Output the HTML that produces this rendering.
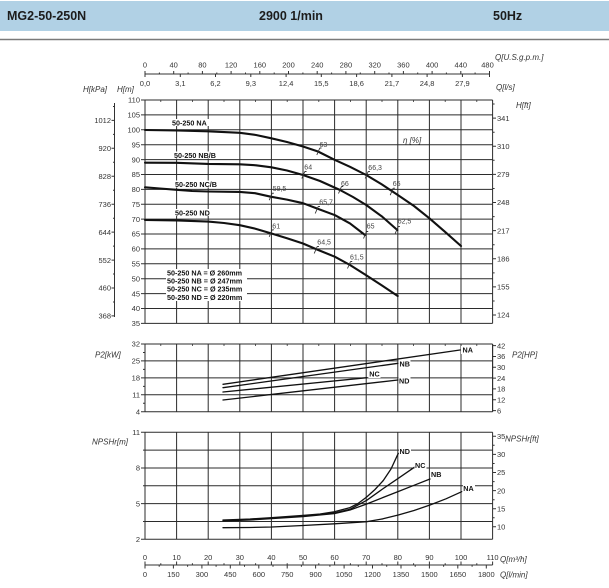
<!DOCTYPE html>
<html>
<head>
<meta charset="utf-8">
<style>
html,body{margin:0;padding:0;background:#fff;}
body{width:609px;height:588px;overflow:hidden;}
svg{display:block;font-family:"Liberation Sans",Arial,sans-serif;}
.t{font-size:7.5px;fill:#333;}
.it{font-size:8px;fill:#333;font-style:italic;}
.b{font-size:7.2px;fill:#111;font-weight:bold;}
.e{font-size:7px;fill:#444;}
.h{font-size:12.5px;font-weight:bold;fill:#1c1c1c;}
</style>
</head>
<body>
<svg width="609" height="588" viewBox="0 0 609 588" xmlns="http://www.w3.org/2000/svg">
<!-- header -->
<rect x="0" y="1" width="609" height="30" fill="#b1d1e5"/>
<text x="7" y="20" class="h">MG2-50-250N</text>
<text x="259" y="20" class="h">2900 1/min</text>
<text x="493" y="20" class="h">50Hz</text>
<line x1="0" y1="39.5" x2="609" y2="39.5" stroke="#7a7a7a" stroke-width="1.4"/>

<!-- top axis (U.S. gpm / l/s) -->
<text x="495" y="60" class="it">Q[U.S.g.p.m.]</text>
<text x="496" y="90" class="it">Q[l/s]</text>
<line x1="145" y1="74" x2="489.5" y2="74" stroke="#333" stroke-width="1"/>
<path stroke="#333" stroke-width="1" fill="none" d="M145 71V77 M173.7 71V74 M202.4 71V74 M231.1 71V74 M259.8 71V74 M288.5 71V74 M317.2 71V74 M345.9 71V74 M374.7 71V74 M403.4 71V74 M432.1 71V74 M460.8 71V74 M489.5 71V77
M159.4 72.5V74 M188.1 72.5V74 M216.8 72.5V74 M245.5 72.5V74 M274.2 72.5V74 M302.9 72.5V74 M331.6 72.5V74 M360.3 72.5V74 M389 72.5V74 M417.7 72.5V74 M446.4 72.5V74 M475.1 72.5V74
M180.3 74V77 M215.5 74V77 M250.8 74V77 M286.1 74V77 M321.3 74V77 M356.6 74V77 M391.9 74V77 M427.1 74V77 M462.4 74V77"/>
<g class="t" text-anchor="middle">
<text x="145" y="67.5">0</text><text x="173.7" y="67.5">40</text><text x="202.4" y="67.5">80</text><text x="231.1" y="67.5">120</text><text x="259.8" y="67.5">160</text><text x="288.5" y="67.5">200</text><text x="317.2" y="67.5">240</text><text x="345.9" y="67.5">280</text><text x="374.7" y="67.5">320</text><text x="403.4" y="67.5">360</text><text x="432.1" y="67.5">400</text><text x="460.8" y="67.5">440</text><text x="487.5" y="67.5">480</text>
<text x="145" y="86">0,0</text><text x="180.3" y="86">3,1</text><text x="215.5" y="86">6,2</text><text x="250.8" y="86">9,3</text><text x="286.1" y="86">12,4</text><text x="321.3" y="86">15,5</text><text x="356.6" y="86">18,6</text><text x="391.9" y="86">21,7</text><text x="427.1" y="86">24,8</text><text x="462.4" y="86">27,9</text>
</g>
<text x="83" y="92" class="it">H[kPa]</text>
<text x="117" y="92" class="it">H[m]</text>
<text x="516" y="108" class="it">H[ft]</text>

<!-- TOP CHART grid -->
<path stroke="#2b2b2b" stroke-width="1" fill="none" d="
M145 100V323.4 M176.6 100V323.4 M208.2 100V323.4 M239.8 100V323.4 M271.4 100V323.4 M303 100V323.4 M334.6 100V323.4 M366.2 100V323.4 M397.8 100V323.4 M429.4 100V323.4 M461 100V323.4 M492.6 100V323.4
M145 100H492.6 M145 114.9H492.6 M145 129.8H492.6 M145 144.7H492.6 M145 159.6H492.6 M145 174.5H492.6 M145 189.4H492.6 M145 204.2H492.6 M145 219.1H492.6 M145 234H492.6 M145 248.9H492.6 M145 263.8H492.6 M145 278.7H492.6 M145 293.6H492.6 M145 308.5H492.6 M145 323.4H492.6"/>
<!-- top minor ticks on top border -->
<path stroke="#333" stroke-width="0.8" d="M160.8 100V102 M192.4 100V102 M224 100V102 M255.6 100V102 M287.2 100V102 M318.8 100V102 M350.4 100V102 M382 100V102 M413.6 100V102 M445.2 100V102 M476.8 100V102"/>
<!-- left H[m] ticks & labels -->
<path stroke="#333" stroke-width="1" d="M141 100H145 M141 114.9H145 M141 129.8H145 M141 144.7H145 M141 159.6H145 M141 174.5H145 M141 189.4H145 M141 204.2H145 M141 219.1H145 M141 234H145 M141 248.9H145 M141 263.8H145 M141 278.7H145 M141 293.6H145 M141 308.5H145 M141 323.4H145"/>
<g class="t" text-anchor="end">
<text x="140" y="102.7">110</text><text x="140" y="117.6">105</text><text x="140" y="132.5">100</text><text x="140" y="147.4">95</text><text x="140" y="162.3">90</text><text x="140" y="177.2">85</text><text x="140" y="192.1">80</text><text x="140" y="206.9">75</text><text x="140" y="221.8">70</text><text x="140" y="236.7">65</text><text x="140" y="251.6">60</text><text x="140" y="266.5">55</text><text x="140" y="281.4">50</text><text x="140" y="296.3">45</text><text x="140" y="311.2">40</text><text x="140" y="326.1">35</text>
</g>
<!-- kPa axis -->
<line x1="114.5" y1="103" x2="114.5" y2="317" stroke="#333" stroke-width="1"/>
<path stroke="#333" stroke-width="1" d="M111.5 120.4H114.5 M111.5 148.3H114.5 M111.5 176.3H114.5 M111.5 204.2H114.5 M111.5 232.1H114.5 M111.5 260.1H114.5 M111.5 288H114.5 M111.5 315.9H114.5
M113 106.5H114.5 M113 134.4H114.5 M113 162.3H114.5 M113 190.2H114.5 M113 218.2H114.5 M113 246.1H114.5 M113 274H114.5 M113 302H114.5"/>
<g class="t" text-anchor="end">
<text x="111" y="123.1">1012</text><text x="111" y="151">920</text><text x="111" y="179">828</text><text x="111" y="206.9">736</text><text x="111" y="234.8">644</text><text x="111" y="262.8">552</text><text x="111" y="290.7">460</text><text x="111" y="318.6">368</text>
</g>
<!-- ft axis -->
<path stroke="#333" stroke-width="1" d="M492.6 118.1H496 M492.6 146.2H496 M492.6 174.4H496 M492.6 202.5H496 M492.6 230.6H496 M492.6 258.8H496 M492.6 286.9H496 M492.6 315H496
M492.6 104H494.6 M492.6 132.2H494.6 M492.6 160.3H494.6 M492.6 188.5H494.6 M492.6 216.6H494.6 M492.6 244.7H494.6 M492.6 272.9H494.6 M492.6 301H494.6"/>
<g class="t">
<text x="497" y="120.8">341</text><text x="497" y="148.9">310</text><text x="497" y="177.1">279</text><text x="497" y="205.2">248</text><text x="497" y="233.3">217</text><text x="497" y="261.5">186</text><text x="497" y="289.6">155</text><text x="497" y="317.7">124</text>
</g>
<text x="403" y="143" class="it">η [%]</text>

<!-- curve labels -->
<g>
<rect x="171" y="119" width="40" height="7" fill="#fff"/>
<text x="172" y="125.3" class="b">50-250 NA</text>
<rect x="173" y="151.5" width="46" height="7" fill="#fff"/>
<text x="174" y="157.8" class="b">50-250 NB/B</text>
<rect x="174" y="180.5" width="46" height="7" fill="#fff"/>
<text x="175" y="186.8" class="b">50-250 NC/B</text>
<rect x="174" y="209" width="39" height="7" fill="#fff"/>
<text x="175" y="215.3" class="b">50-250 ND</text>
</g>
<!-- curves -->
<g fill="none" stroke="#111" stroke-width="2.1" stroke-linejoin="round" stroke-linecap="round">
<polyline points="145,130 176.6,130.5 208.2,131.3 239.8,132.8 256,135 271.4,138.3 287,142 303,146.5 318,151.5 334.6,159.8 350,166.8 366.2,175 382,184.5 397.8,195 414,206 429.4,218.3 445,231.8 461,246"/>
<polyline points="145,162.7 176.6,162.8 208.2,163.9 239.8,164.3 256,165.3 271.4,167.3 287,170.5 303,175 320,181 340,190 353,197 366.2,205 382,216.5 397.3,230"/>
<polyline points="145,187.3 160,188.5 176.6,189.8 192,191 208.2,191.5 239.8,191.9 255,193.2 270.7,196.7 287,199.6 303,203.2 316.7,208.4 335,215.2 350,223.4 365,235"/>
<polyline points="145,220 176.6,220.4 208.2,221.6 224,223 239.8,225.2 255,228.6 270.7,233.3 287,238.2 303,243.5 316.7,249.4 335,256.8 350,265 366.2,275.3 382,285.5 397.7,296"/>
</g>
<!-- efficiency markers -->
<g fill="none" stroke="#333" stroke-width="0.9">
<path d="M319.8 148L316.8 155 M319.8 148H321.5"/>
<path d="M368.2 171.5L365.2 178.5 M368.2 171.5H369.9"/>
<path d="M393.2 188.2L390.2 195.2 M393.2 188.2H394.9"/>
<path d="M304.8 171.5L301.8 178.5 M304.8 171.5H306.5"/>
<path d="M341.5 186.5L338.5 193.5 M341.5 186.5H343.2"/>
<path d="M398.2 226.5L395.2 233.5 M398.2 226.5H399.9"/>
<path d="M272.2 193.2L269.2 200.2 M272.2 193.2H273.9"/>
<path d="M318.2 206.5L315.2 213.5 M318.2 206.5H319.9"/>
<path d="M366.5 231.5L363.5 238.5 M366.5 231.5H368.2"/>
<path d="M272.2 229.8L269.2 236.8 M272.2 229.8H273.9"/>
<path d="M317.2 246.5L314.2 253.5 M317.2 246.5H318.9"/>
<path d="M350.5 261.5L347.5 268.5 M350.5 261.5H352.2"/>
</g>
<g class="e">
<text x="319.5" y="146.8">63</text>
<text x="368.3" y="170">66,3</text>
<text x="392.7" y="186">65</text>
<text x="304.3" y="169.3">64</text>
<text x="341" y="186">66</text>
<text x="397.7" y="223.7">62,5</text>
<text x="272.7" y="191">59,5</text>
<text x="319.3" y="204.3">65,7</text>
<text x="366.7" y="228.7">65</text>
<text x="272.3" y="228.3">61</text>
<text x="317.3" y="244.7">64,5</text>
<text x="350" y="259.3">61,5</text>
</g>
<!-- legend -->
<rect x="166" y="269" width="81" height="32" fill="#fff"/>
<g class="b">
<text x="167" y="275.3">50-250 NA = Ø 260mm</text>
<text x="167" y="283.5">50-250 NB = Ø 247mm</text>
<text x="167" y="291.7">50-250 NC = Ø 235mm</text>
<text x="167" y="299.9">50-250 ND = Ø 220mm</text>
</g>

<!-- MIDDLE CHART -->
<path stroke="#2b2b2b" stroke-width="1" fill="none" d="
M145 344V411.7 M176.6 344V411.7 M208.2 344V411.7 M239.8 344V411.7 M271.4 344V411.7 M303 344V411.7 M334.6 344V411.7 M366.2 344V411.7 M397.8 344V411.7 M429.4 344V411.7 M461 344V411.7 M492.6 344V411.7
M145 344H492.6 M145 360.9H492.6 M145 377.9H492.6 M145 394.8H492.6 M145 411.7H492.6"/>
<path stroke="#333" stroke-width="0.8" d="M160.8 344V346 M192.4 344V346 M224 344V346 M255.6 344V346 M287.2 344V346 M318.8 344V346 M350.4 344V346 M382 344V346 M413.6 344V346 M445.2 344V346 M476.8 344V346"/>
<path stroke="#333" stroke-width="1" d="M141 344H145 M141 360.9H145 M141 377.9H145 M141 394.8H145 M141 411.7H145 M143 352.5H145 M143 369.4H145 M143 386.4H145 M143 403.3H145
M492.6 345.6H496 M492.6 356.5H496 M492.6 367.3H496 M492.6 378.1H496 M492.6 388.9H496 M492.6 399.7H496 M492.6 410.6H496"/>
<line x1="492.6" y1="344" x2="492.6" y2="411.7" stroke="#2b2b2b" stroke-width="1"/>
<text x="95" y="357.5" class="it">P2[kW]</text>
<text x="512" y="357.5" class="it">P2[HP]</text>
<g class="t" text-anchor="end">
<text x="140" y="346.7">32</text><text x="140" y="363.6">25</text><text x="140" y="380.6">18</text><text x="140" y="397.5">11</text><text x="140" y="414.4">4</text>
</g>
<g class="t">
<text x="497" y="348.3">42</text><text x="497" y="359.2">36</text><text x="497" y="370">30</text><text x="497" y="380.8">24</text><text x="497" y="391.6">18</text><text x="497" y="402.4">12</text><text x="497" y="413.3">6</text>
</g>
<g fill="none" stroke="#111" stroke-width="1.3" stroke-linecap="round">
<line x1="223" y1="384.3" x2="460" y2="350"/>
<line x1="223" y1="387.7" x2="398" y2="363.3"/>
<line x1="223" y1="392" x2="367" y2="377.7"/>
<line x1="223" y1="400" x2="398" y2="380"/>
</g>
<rect x="461" y="346" width="12" height="8" fill="#fff"/>
<text x="462.5" y="352.6" class="b">NA</text>
<rect x="398.5" y="360" width="12" height="8" fill="#fff"/>
<text x="399.5" y="366.6" class="b">NB</text>
<rect x="368.5" y="370" width="12" height="8" fill="#fff"/>
<text x="369.3" y="376.6" class="b">NC</text>
<rect x="398.5" y="377" width="12" height="8" fill="#fff"/>
<text x="399" y="383.3" class="b">ND</text>

<!-- BOTTOM CHART -->
<path stroke="#2b2b2b" stroke-width="1" fill="none" d="
M145 432.3V539.3 M176.6 432.3V539.3 M208.2 432.3V539.3 M239.8 432.3V539.3 M271.4 432.3V539.3 M303 432.3V539.3 M334.6 432.3V539.3 M366.2 432.3V539.3 M397.8 432.3V539.3 M429.4 432.3V539.3 M461 432.3V539.3 M492.6 432.3V539.3
M145 432.3H492.6 M145 450.1H492.6 M145 468H492.6 M145 485.8H492.6 M145 503.6H492.6 M145 521.5H492.6 M145 539.3H492.6"/>
<path stroke="#333" stroke-width="1" d="M141 432.3H145 M141 468H145 M141 503.6H145 M141 539.3H145 M143 450.1H145 M143 485.8H145 M143 521.5H145
M492.6 436.2H496 M492.6 454.4H496 M492.6 472.5H496 M492.6 490.6H496 M492.6 508.7H496 M492.6 526.8H496
M492.6 445.3H494.6 M492.6 463.5H494.6 M492.6 481.6H494.6 M492.6 499.7H494.6 M492.6 517.8H494.6"/>
<text x="92" y="444.3" class="it">NPSHr[m]</text>
<text x="505" y="441.5" class="it">NPSHr[ft]</text>
<g class="t" text-anchor="end">
<text x="140" y="435">11</text><text x="140" y="470.7">8</text><text x="140" y="506.3">5</text><text x="140" y="542">2</text>
</g>
<g class="t">
<text x="497" y="438.9">35</text><text x="497" y="457.1">30</text><text x="497" y="475.2">25</text><text x="497" y="493.3">20</text><text x="497" y="511.4">15</text><text x="497" y="529.5">10</text>
</g>
<g fill="none" stroke="#111" stroke-width="1.3" stroke-linejoin="round" stroke-linecap="round">
<polyline points="223,527.7 250,527.5 271.7,527 303,525.5 334.3,523.8 366.7,521.7 383,518.8 398.3,515 414,510.5 430,505 446,498.8 461.7,491.7"/>
<polyline points="223,521 250,520 271.7,518.6 303,516.6 334.3,513.6 350,510 366.7,504 383.3,497.4 398.3,491.5 414.3,485.2 430,479"/>
<polyline points="223,520.5 250,519.4 271.7,518 303,516 334.3,513 350,509.3 366.7,500.3 383.3,488.5 398.3,478.3 414.3,467.3"/>
<polyline points="223,520 250,519 271.7,517.6 303,515.4 320,514 334.3,511.8 350,507.6 358,503.5 366.7,497 375,489.5 383.3,480.5 391,469 398.3,453.3"/>
</g>
<rect x="399" y="447.5" width="12" height="8" fill="#fff"/>
<text x="399.5" y="454" class="b">ND</text>
<rect x="414.5" y="461.5" width="12" height="8" fill="#fff"/>
<text x="415" y="468" class="b">NC</text>
<rect x="430.5" y="470.5" width="12" height="8" fill="#fff"/>
<text x="431" y="477" class="b">NB</text>
<rect x="463" y="484.5" width="12" height="8" fill="#fff"/>
<text x="463.3" y="491" class="b">NA</text>

<!-- bottom axis -->
<line x1="145" y1="565" x2="492.6" y2="565" stroke="#333" stroke-width="1"/>
<path stroke="#333" stroke-width="1" d="M145 561.5V568.5 M176.6 561.5V565 M208.2 561.5V565 M239.8 561.5V565 M271.4 561.5V565 M303 561.5V565 M334.6 561.5V565 M366.2 561.5V565 M397.8 561.5V565 M429.4 561.5V565 M461 561.5V565 M492.6 561.5V565
M173.4 565V568.5 M201.9 565V568.5 M230.3 565V568.5 M258.8 565V568.5 M287.2 565V568.5 M315.6 565V568.5 M344.1 565V568.5 M372.5 565V568.5 M401 565V568.5 M429.4 565V568.5 M457.8 565V568.5 M486.3 565V568.5
M160.8 563.3V565 M192.4 563.3V565 M224 563.3V565 M255.6 563.3V565 M287.2 563.3V565 M318.8 563.3V565 M350.4 563.3V565 M382 563.3V565 M413.6 563.3V565 M445.2 563.3V565 M476.8 563.3V565
M159.2 565V566.7 M187.6 565V566.7 M216.1 565V566.7 M244.5 565V566.7 M273 565V566.7 M301.4 565V566.7 M329.9 565V566.7 M358.3 565V566.7 M386.7 565V566.7 M415.2 565V566.7 M443.6 565V566.7 M472.1 565V566.7"/>
<g class="t" text-anchor="middle">
<text x="145" y="560">0</text><text x="176.6" y="560">10</text><text x="208.2" y="560">20</text><text x="239.8" y="560">30</text><text x="271.4" y="560">40</text><text x="303" y="560">50</text><text x="334.6" y="560">60</text><text x="366.2" y="560">70</text><text x="397.8" y="560">80</text><text x="429.4" y="560">90</text><text x="461" y="560">100</text><text x="492.6" y="560">110</text>
<text x="145" y="577">0</text><text x="173.4" y="577">150</text><text x="201.9" y="577">300</text><text x="230.3" y="577">450</text><text x="258.8" y="577">600</text><text x="287.2" y="577">750</text><text x="315.6" y="577">900</text><text x="344.1" y="577">1050</text><text x="372.5" y="577">1200</text><text x="401" y="577">1350</text><text x="429.4" y="577">1500</text><text x="457.8" y="577">1650</text><text x="486.3" y="577">1800</text>
</g>
<text x="500" y="562" class="it">Q[m³/h]</text>
<text x="500" y="577.5" class="it">Q[l/min]</text>
</svg>
</body>
</html>
